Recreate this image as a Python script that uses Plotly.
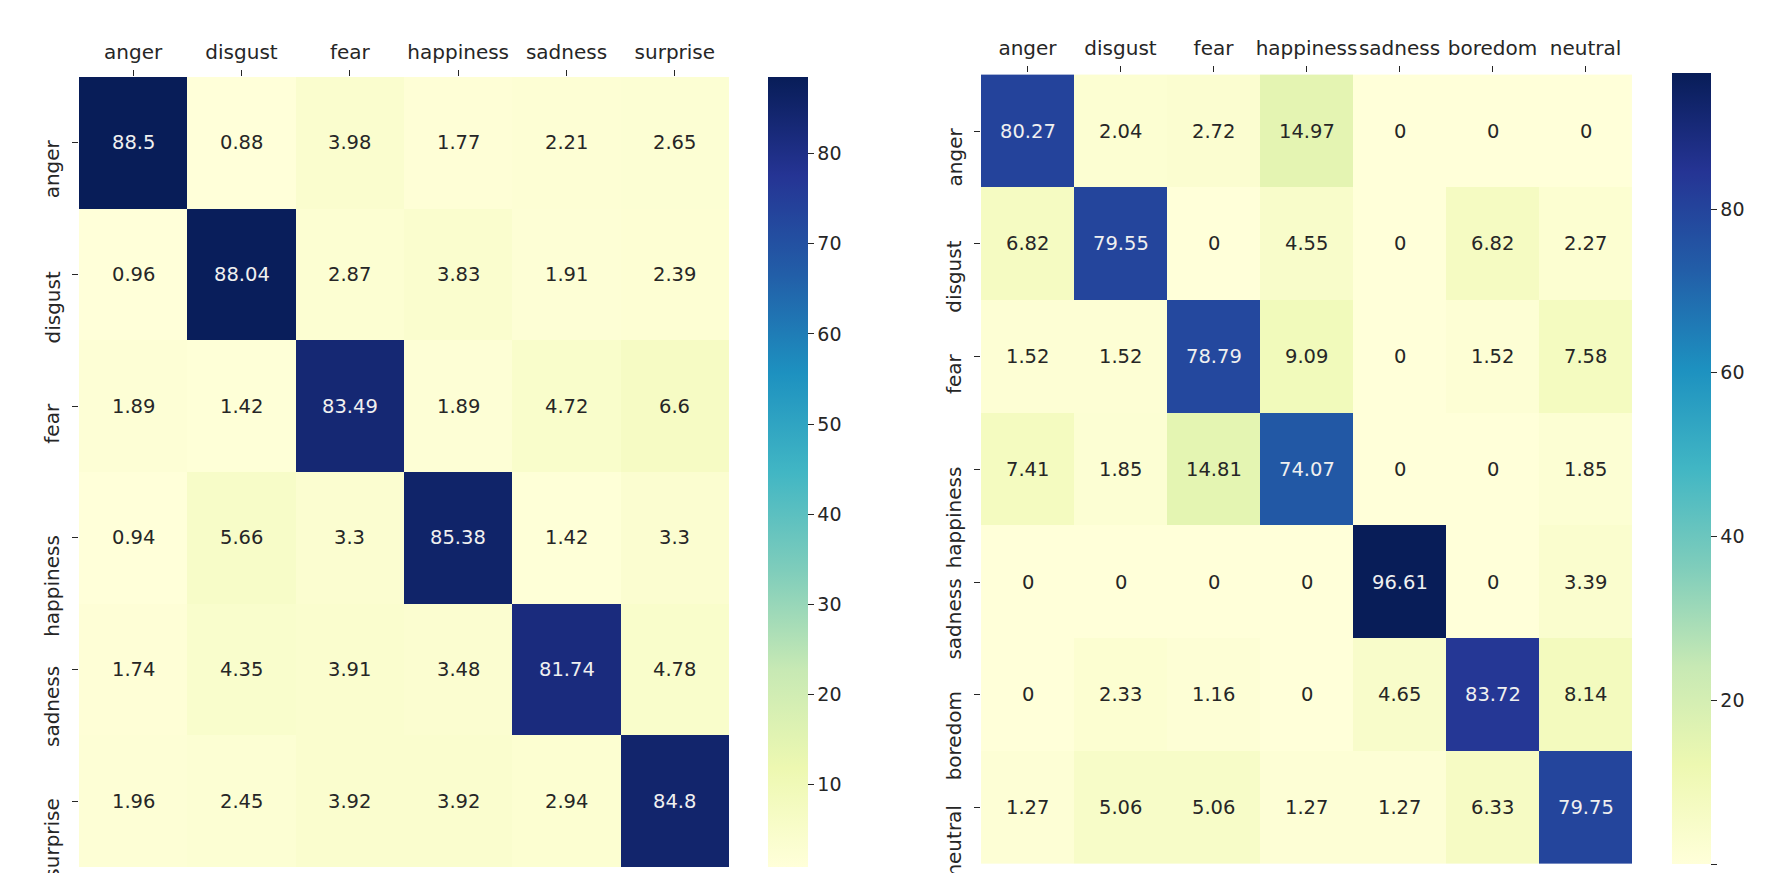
import plotly.graph_objects as go

# page size and the browser's default 8px body margin
PAGE_W, PAGE_H = 1773, 873
OFF = 8
W, H = PAGE_W - OFF, PAGE_H - OFF

labels_left = ["anger", "disgust", "fear", "happiness", "sadness", "surprise"]
values_left = [
    [88.5, 0.88, 3.98, 1.77, 2.21, 2.65],
    [0.96, 88.04, 2.87, 3.83, 1.91, 2.39],
    [1.89, 1.42, 83.49, 1.89, 4.72, 6.6],
    [0.94, 5.66, 3.3, 85.38, 1.42, 3.3],
    [1.74, 4.35, 3.91, 3.48, 81.74, 4.78],
    [1.96, 2.45, 3.92, 3.92, 2.94, 84.8],
]
ticks_left = [10, 20, 30, 40, 50, 60, 70, 80]

labels_right = ["anger", "disgust", "fear", "happiness", "sadness", "boredom", "neutral"]
values_right = [
    [80.27, 2.04, 2.72, 14.97, 0, 0, 0],
    [6.82, 79.55, 0, 4.55, 0, 6.82, 2.27],
    [1.52, 1.52, 78.79, 9.09, 0, 1.52, 7.58],
    [7.41, 1.85, 14.81, 74.07, 0, 0, 1.85],
    [0, 0, 0, 0, 96.61, 0, 3.39],
    [0, 2.33, 1.16, 0, 4.65, 83.72, 8.14],
    [1.27, 5.06, 5.06, 1.27, 1.27, 6.33, 79.75],
]
ticks_right = [0, 20, 40, 60, 80]

YLGNBU = [
    [0.0, "#ffffd9"], [0.125, "#edf8b1"], [0.25, "#c7e9b4"], [0.375, "#7fcdbb"],
    [0.5, "#41b6c4"], [0.625, "#1d91c0"], [0.75, "#225ea8"], [0.875, "#253494"],
    [1.0, "#081d58"],
]

FONT = "DejaVu Sans"
FS_LAB = 20
FS_CELL = 19.5
FS_CB = 19
DARK = "#262626"

def fx(px):
    return (px - OFF) / W

def fy(py):
    return (H - (py - OFF)) / H

# geometry in page pixels
L = dict(x0=79, x1=729, y0=77, y1=867, cb0=768, cb1=808, lab_r=66)
R = dict(x0=981, x1=1632, y0=73, y1=864, cb0=1672, cb1=1711, lab_r=968)

fig = go.Figure()
annotations = []

def add_map(labels, values, ticks, geo, xa, ya):
    flat = [v for row in values for v in row]
    zmin, zmax = min(flat), max(flat)
    fig.add_trace(go.Heatmap(
        x=labels, y=labels, z=values, xaxis=xa, yaxis=ya,
        colorscale=YLGNBU, zmin=zmin, zmax=zmax, hoverinfo="skip",
        colorbar=dict(
            x=fx(geo["cb0"]), xanchor="left", xpad=0, ypad=0,
            y=fy(geo["y1"]), yanchor="bottom",
            len=geo["y1"] - geo["y0"], lenmode="pixels",
            thickness=geo["cb1"] - geo["cb0"], thicknessmode="pixels",
            outlinewidth=0, ticks="outside", ticklen=6, tickwidth=1.2,
            tickcolor=DARK, tickvals=ticks,
            tickfont=dict(family=FONT, size=FS_CB, color=DARK),
        ),
    ))
    mid = (zmin + zmax) / 2
    for i, rl in enumerate(labels):
        for j, cl in enumerate(labels):
            v = values[i][j]
            annotations.append(dict(
                x=cl, y=rl, xref=xa, yref=ya, text=f"{v:g}", showarrow=False,
                font=dict(family=FONT, size=FS_CELL, color="#f0f0f0" if v > mid else DARK),
            ))
        annotations.append(dict(
            x=fx(geo["lab_r"]), xref="paper", xanchor="right",
            y=rl, yref=ya, yanchor="top", yshift=5,
            text=rl, textangle=-90, showarrow=False,
            font=dict(family=FONT, size=FS_LAB, color=DARK),
        ))

add_map(labels_left, values_left, ticks_left, L, "x", "y")
add_map(labels_right, values_right, ticks_right, R, "x2", "y2")

axx = dict(side="top", ticks="outside", ticklen=6, tickwidth=1.2, tickcolor=DARK,
           tickangle=0, ticklabelstandoff=3, showgrid=False, zeroline=False,
           showline=False, automargin=False,
           tickfont=dict(family=FONT, size=FS_LAB, color=DARK))
axy = dict(ticks="outside", ticklen=6, tickwidth=1.2, tickcolor=DARK,
           showgrid=False, zeroline=False, showline=False, showticklabels=False,
           automargin=False, autorange="reversed")

fig.update_layout(
    width=W, height=H, margin=dict(l=0, r=0, t=0, b=0, autoexpand=False),
    paper_bgcolor="white", plot_bgcolor="white",
    xaxis=dict(axx, domain=[fx(L["x0"]), fx(L["x1"])], anchor="y"),
    yaxis=dict(axy, domain=[fy(L["y1"]), fy(L["y0"])], anchor="x"),
    xaxis2=dict(axx, domain=[fx(R["x0"]), fx(R["x1"])], anchor="y2"),
    yaxis2=dict(axy, domain=[fy(R["y1"]), fy(R["y0"])], anchor="x2"),
    annotations=annotations,
    showlegend=False,
)

fig.write_html("out.html")
